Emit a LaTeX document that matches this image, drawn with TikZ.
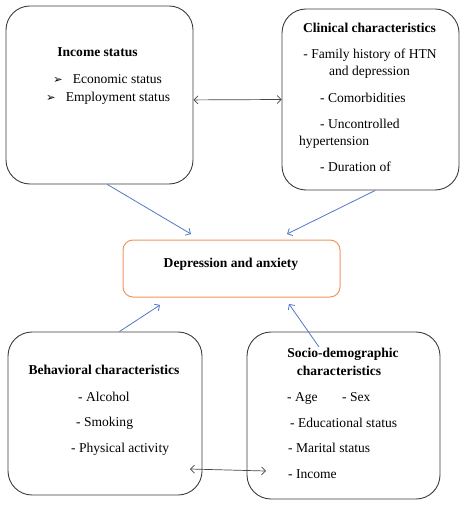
\documentclass[tikz,border=0pt]{standalone}
\usepackage{fontspec}
\setmainfont{Liberation Serif}
\newfontfamily\symfont{DejaVu Sans}
\usetikzlibrary{arrows.meta}
\definecolor{boxgrey}{RGB}{60,60,60}
\definecolor{outorange}{RGB}{240,150,95}
\definecolor{flowblue}{RGB}{80,120,200}
\definecolor{linkgrey}{RGB}{70,70,70}
\tikzset{
  box/.style={draw=boxgrey, line width=0.9bp, rounded corners=24bp},
  outcome/.style={draw=outorange, line width=1bp, rounded corners=10bp},
  inflow/.style={-{Straight Barb[length=4bp,width=8bp]}, draw=flowblue, line width=0.8bp},
  link/.style={{Straight Barb[length=4bp,width=8bp]}-{Straight Barb[length=4bp,width=8bp]}, draw=linkgrey, line width=0.7bp},
  txt/.style={font=\fontsize{13.6}{16}\selectfont, inner sep=0pt},
  head/.style={font=\fontsize{13.6}{16}\selectfont\bfseries, inner sep=0pt}
}
\newcommand{\bulletarrow}{{\symfont\fontsize{11.5}{12}\selectfont ➢}\hspace{10bp}}

\begin{document}
\begin{tikzpicture}[x=1bp, y=-1bp]
\useasboundingbox (0,0) rectangle (474,508);

% Income status
\node[box, minimum width=187bp, minimum height=178bp] (income) at (99.5,95) {};
\node[head, anchor=base] (incomeHead) at (97.5,57) {Income status};
\node[txt, anchor=base west] (econ) at (53,84) {\bulletarrow Economic status};
\node[txt, anchor=base west] (employ) at (46,102) {\bulletarrow Employment status};

% Clinical characteristics
\node[box, minimum width=177bp, minimum height=181bp] (clinical) at (370.5,99.5) {};
\node[head, anchor=base] (clinicalHead) at (369.5,33) {Clinical characteristics};
\node[txt, anchor=base] (family) at (370,59) {- Family history of HTN};
\node[txt, anchor=base] (familyB) at (369.5,76) {and depression};
\node[txt, anchor=base west] (comorb) at (320,103) {- Comorbidities};
\node[txt, anchor=base west] (uncontr) at (320,129) {- Uncontrolled};
\node[txt, anchor=base west] (uncontrB) at (299,146) {hypertension};
\node[txt, anchor=base west] (duration) at (320,172) {- Duration of};

% Outcome
\node[outcome, minimum width=217bp, minimum height=57bp] (outcome) at (231.5,268.5) {};
\node[head, anchor=base] (outcomeText) at (231,267) {Depression and anxiety};

% Behavioral characteristics
\node[box, minimum width=194bp, minimum height=163bp] (behav) at (105,413.5) {};
\node[head, anchor=base] (behavHead) at (104,374) {Behavioral characteristics};
\node[txt, anchor=base west] (alcohol) at (78,401) {- Alcohol};
\node[txt, anchor=base west] (smoking) at (76,426) {- Smoking};
\node[txt, anchor=base west] (physical) at (71,452) {- Physical activity};

% Socio-demographic characteristics
\node[box, minimum width=193bp, minimum height=167bp] (socio) at (343.5,415.5) {};
\node[head, anchor=base] (socioHead) at (343,357) {Socio-demographic};
\node[head, anchor=base] (socioHeadB) at (339,375) {characteristics};
\node[txt, anchor=base west] (age) at (287,401) {- Age};
\node[txt, anchor=base west] (sex) at (342,401) {- Sex};
\node[txt, anchor=base west] (educ) at (290,427) {- Educational status};
\node[txt, anchor=base west] (marital) at (288,452) {- Marital status};
\node[txt, anchor=base west] (incomeItem) at (288,478) {- Income};

% Arrow ends
\coordinate (incomeTip) at (191,234);
\coordinate (clinicalTip) at (287,234);
\coordinate (behavTip) at (160,305);
\coordinate (socioTip) at (289,304);
\coordinate (socioTail) at (319,347);
\coordinate (behavEnd) at (190,469);
\coordinate (socioEnd) at (266,471);

% Arrows into the outcome
\draw[inflow] (income.-85) -- (incomeTip);
\draw[inflow] (clinical.-87) -- (clinicalTip);
\draw[inflow] (behav.80) -- (behavTip);
\draw[inflow] (socioTail) -- (socioTip);

% Links between boxes
\draw[link] (income.-3) -- (clinical.west);
\draw[link] (behavEnd) -- (socioEnd);
\end{tikzpicture}
\end{document}
